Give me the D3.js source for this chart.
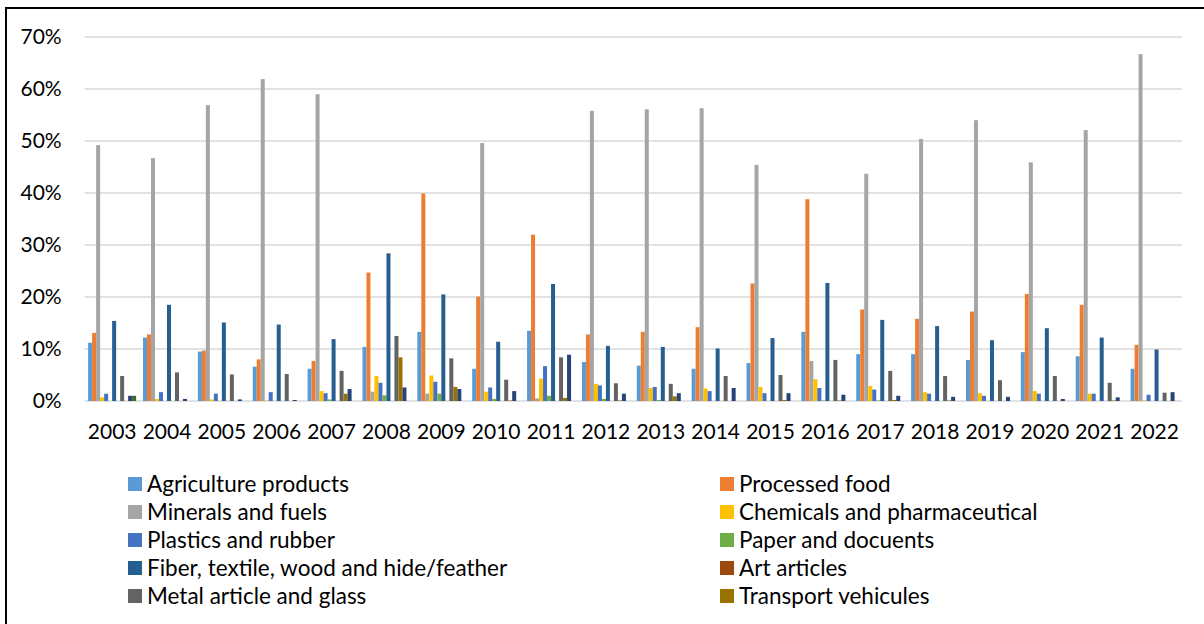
<!DOCTYPE html>
<html>
<head>
<meta charset="utf-8">
<script src="https://cdn.jsdelivr.net/npm/d3@7/dist/d3.min.js"></script>
<style>
  html, body { margin: 0; padding: 0; background: #fff; }
  svg { display: block; }
  text { font-family: Lato, "Liberation Sans", sans-serif; fill: #000; }
</style>
</head>
<body>
<svg id="chart" width="1204" height="624"></svg>
<script>
// Share of exports by product group, 2003-2022 (percent)
const years = [2003, 2004, 2005, 2006, 2007, 2008, 2009, 2010, 2011, 2012,
               2013, 2014, 2015, 2016, 2017, 2018, 2019, 2020, 2021, 2022];

const seriesNames = [
  "Agriculture products", "Processed food", "Minerals and fuels",
  "Chemicals and pharmaceutical", "Plastics and rubber", "Paper and docuents",
  "Fiber, textile, wood and hide/feather", "Art articles",
  "Metal article and glass", "Transport vehicules", "Series 11", "Series 12"
];

const agriculture = [11.2, 12.2, 9.5, 6.6, 6.2, 10.4, 13.3, 6.2, 13.5, 7.5, 6.8, 6.2, 7.3, 13.3, 9.0, 9.0, 7.9, 9.4, 8.6, 6.2];
const processedFood = [13.1, 12.8, 9.7, 8.0, 7.7, 24.7, 39.9, 20.1, 32.0, 12.8, 13.3, 14.2, 22.6, 38.8, 17.6, 15.8, 17.2, 20.6, 18.5, 10.8];
const mineralsFuels = [49.2, 46.7, 56.9, 61.9, 59.0, 1.8, 1.4, 49.6, 0.5, 55.8, 56.1, 56.3, 45.4, 7.7, 43.7, 50.4, 54.0, 45.9, 52.1, 66.7];
const chemicals = [0.7, 0.4, 0.3, 0.1, 1.9, 4.8, 4.9, 1.8, 4.3, 3.3, 2.5, 2.4, 2.7, 4.2, 2.9, 1.7, 1.5, 1.9, 1.4, 0.1];
const plastics = [1.4, 1.7, 1.4, 1.7, 1.5, 3.5, 3.7, 2.6, 6.7, 3.0, 2.7, 1.9, 1.5, 2.5, 2.2, 1.4, 1.0, 1.4, 1.4, 1.2];
const paper = [0, 0, 0, 0, 0.3, 1.1, 1.4, 0.4, 1.0, 0.4, 0.2, 0, 0, 0.1, 0.1, 0, 0, 0, 0, 0];
const fiber = [15.4, 18.5, 15.1, 14.7, 11.9, 28.4, 20.5, 11.4, 22.5, 10.6, 10.4, 10.1, 12.1, 22.7, 15.6, 14.4, 11.7, 14.0, 12.2, 9.9];
const art = [0, 0, 0, 0, 0, 0, 0, 0, 0, 0, 0, 0, 0, 0, 0, 0, 0, 0, 0, 0];
const metal = [4.8, 5.5, 5.1, 5.2, 5.8, 12.5, 8.2, 4.1, 8.4, 3.4, 3.3, 4.8, 5.0, 7.9, 5.8, 4.8, 4.0, 4.8, 3.5, 1.6];
const transport = [0, 0, 0, 0, 1.4, 8.4, 2.7, 0.1, 0.6, 0.1, 0.9, 0, 0.2, 0.1, 0.2, 0.1, 0, 0, 0.1, 0];
const series11 = [1.0, 0.4, 0.3, 0.2, 2.3, 2.6, 2.3, 1.9, 8.9, 1.4, 1.5, 2.5, 1.5, 1.2, 1.0, 0.8, 0.8, 0.4, 0.7, 1.7];
const series12 = [1.0, 0, 0, 0, 0, 0, 0, 0, 0, 0, 0, 0, 0, 0, 0, 0, 0, 0, 0, 0];

const yTicks = [0, 10, 20, 30, 40, 50, 60, 70];

const colors = ["#5B9BD5", "#ED7D31", "#A5A5A5", "#FFC000", "#4472C4", "#70AD47",
                "#255E91", "#9E480E", "#636363", "#997300", "#264478", "#43682B"];

const values = [agriculture, processedFood, mineralsFuels, chemicals, plastics, paper,
                fiber, art, metal, transport, series11, series12];

// Only the first ten series appear in the legend
const legendCount = 10;

const svg = d3.select("#chart");

// Outer frame
svg.append("rect")
  .attr("x", 6).attr("y", 8)
  .attr("width", 1230).attr("height", 640)
  .attr("fill", "none").attr("stroke", "#000").attr("stroke-width", 2);

const plotLeft = 84.7, plotRight = 1182, plotTop = 37, plotBottom = 401;

const x0 = d3.scaleBand()
  .domain(years)
  .range([plotLeft, plotRight])
  .paddingInner(0.125)
  .paddingOuter(0.0625);

const x1 = d3.scaleBand()
  .domain(d3.range(seriesNames.length))
  .range([0, x0.bandwidth()])
  .padding(0);

const y = d3.scaleLinear()
  .domain([0, 70])
  .range([plotBottom, plotTop]);

// Horizontal gridlines
svg.append("g")
  .selectAll("line")
  .data(yTicks)
  .join("line")
  .attr("x1", plotLeft).attr("x2", plotRight)
  .attr("y1", d => y(d)).attr("y2", d => y(d))
  .attr("stroke", "#d9d9d9").attr("stroke-width", 1.5);

// Y axis labels
const yAxis = svg.append("g")
  .attr("transform", `translate(${plotLeft},0)`)
  .call(d3.axisLeft(y).tickValues(yTicks).tickFormat(d => d + "%").tickSize(0).tickPadding(23));
yAxis.select(".domain").remove();
yAxis.selectAll("text").style("font-size", "21px").style("font-family", "Lato, 'Liberation Sans', sans-serif").attr("fill", "#000");

// Bars
const groups = svg.append("g")
  .selectAll("g")
  .data(years)
  .join("g")
  .attr("transform", d => `translate(${x0(d)},0)`);

groups.selectAll("rect")
  .data((yr, i) => values.map((v, s) => ({ s, v: v[i] })))
  .join("rect")
  .attr("x", d => x1(d.s))
  .attr("width", x1.bandwidth())
  .attr("y", d => y(d.v))
  .attr("height", d => y(0) - y(d.v))
  .attr("fill", d => colors[d.s]);

// X axis labels
const xAxis = svg.append("g")
  .attr("transform", `translate(0,${plotBottom})`)
  .call(d3.axisBottom(x0).tickSize(0).tickPadding(23));
xAxis.select(".domain").remove();
xAxis.selectAll("text").style("font-size", "21px").style("font-family", "Lato, 'Liberation Sans', sans-serif").attr("fill", "#000");

// Legend, two columns
const legendCols = [128, 720];
const legendRows = [484, 512, 540, 568, 596];
const legend = svg.append("g")
  .selectAll("g")
  .data(d3.range(legendCount))
  .join("g")
  .attr("transform", i => `translate(${legendCols[i % 2]},${legendRows[Math.floor(i / 2)]})`);

legend.append("rect")
  .attr("x", 0).attr("y", -7)
  .attr("width", 14).attr("height", 14)
  .attr("fill", i => colors[i]);

legend.append("text")
  .attr("x", 19).attr("y", 7.5)
  .style("font-size", "22.5px")
  .text(i => seriesNames[i]);
</script>
</body>
</html>
